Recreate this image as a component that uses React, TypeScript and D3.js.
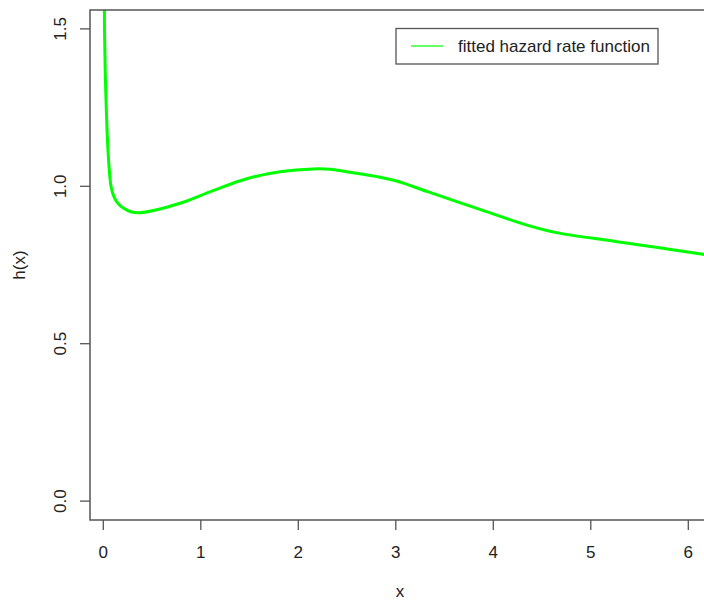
import React from "react";
import * as d3 from "d3";

const xs: number[] = [0.003, 0.008, 0.012, 0.02, 0.028, 0.038, 0.048, 0.062, 0.079, 0.105, 0.137, 0.175, 0.21, 0.274, 0.376, 0.787, 1.125, 1.471, 1.813, 2.151, 2.325, 2.496, 2.838, 3.017, 3.327, 3.84, 4.353, 4.661, 5.228, 5.74, 6.15, 6.4];
const hs: number[] = [2.4, 1.8, 1.5, 1.36, 1.274, 1.18, 1.115, 1.05, 1.0, 0.97, 0.951, 0.938, 0.93, 0.92, 0.916, 0.946, 0.986, 1.024, 1.046, 1.055, 1.054, 1.046, 1.029, 1.016, 0.983, 0.929, 0.876, 0.852, 0.826, 0.803, 0.784, 0.773];
const xTicks: number[] = [0, 1, 2, 3, 4, 5, 6];
const yTicks: number[] = [0.0, 0.5, 1.0, 1.5];
const legendLabel = "fitted hazard rate function";
const xLabel = "x";
const yLabel = "h(x)";

const W = 704;
const H = 601;
const left = 90;
const top = 10;
const bottom = 520;
const right = 760;

export default function App() {
  const x = d3.scaleLinear().domain([0, 1]).range([103.3, 200.8]);
  const y = d3.scaleLinear().domain([-0.06, 1.56]).range([bottom, top]);
  const data = xs.map((v, i) => [v, hs[i]] as [number, number]);
  const line = d3
    .line<[number, number]>()
    .x((d) => x(d[0]))
    .y((d) => y(d[1]))
    .curve(d3.curveCatmullRom.alpha(0.5));
  const font = "'Liberation Sans', Arial, Helvetica, sans-serif";
  const axisCol = "#555";
  const textCol = "#222";
  return (
    <svg
      width={W}
      height={H}
      style={{ position: "absolute", left: 0, top: 0, background: "#fff" }}
      fontFamily={font}
    >
      <defs>
        <clipPath id="plotclip">
          <rect x={left} y={top} width={right - left} height={bottom - top} />
        </clipPath>
      </defs>
      <rect x={0} y={0} width={W} height={H} fill="#fff" />
      <path d={line(data) || ""} fill="none" stroke="#00ff00" strokeWidth={3} clipPath="url(#plotclip)" />
      <rect x={left} y={top} width={right - left} height={bottom - top} fill="none" stroke={axisCol} strokeWidth={1.5} />
      {xTicks.map((t) => (
        <g key={"x" + t}>
          <line x1={x(t)} x2={x(t)} y1={bottom} y2={bottom + 10} stroke={axisCol} strokeWidth={1.3} />
          <text x={x(t)} y={558} textAnchor="middle" fontSize={17} fill={textCol}>
            {String(t)}
          </text>
        </g>
      ))}
      {yTicks.map((t) => (
        <g key={"y" + t}>
          <line x1={left} x2={left - 10} y1={y(t)} y2={y(t)} stroke={axisCol} strokeWidth={1.3} />
          <text
            transform={`translate(66,${y(t)}) rotate(-90)`}
            textAnchor="middle"
            fontSize={17}
            fill={textCol}
          >
            {t.toFixed(1)}
          </text>
        </g>
      ))}
      <text x={400} y={597} textAnchor="middle" fontSize={17} fill={textCol}>
        {xLabel}
      </text>
      <text transform={`translate(25,265) rotate(-90)`} textAnchor="middle" fontSize={17} fill={textCol}>
        {yLabel}
      </text>
      <rect x={396} y={28.5} width={262} height={35.5} fill="#fff" stroke={axisCol} strokeWidth={1.3} />
      <line x1={411} x2={443} y1={46} y2={46} stroke="#00ff00" strokeWidth={1.2} />
      <text x={458} y={52} fontSize={17} fill={textCol}>
        {legendLabel}
      </text>
    </svg>
  );
}
